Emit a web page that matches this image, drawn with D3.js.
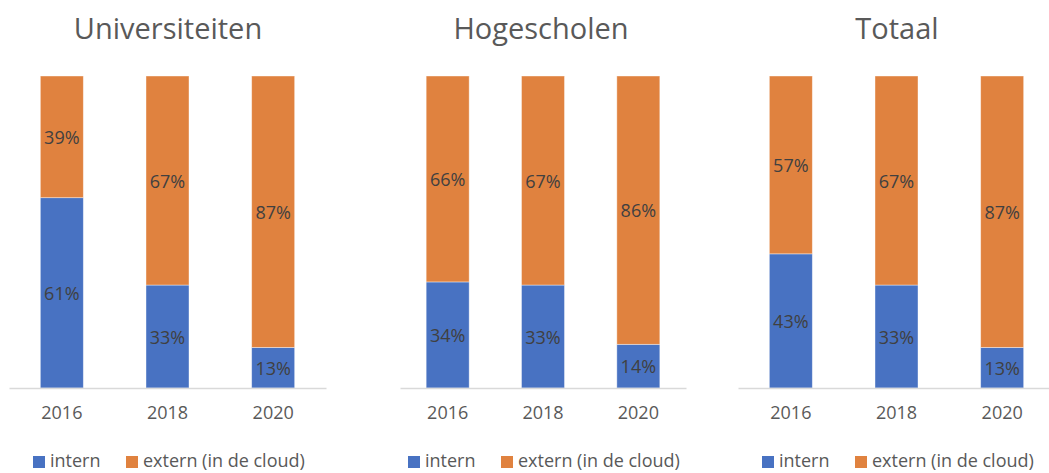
<!DOCTYPE html>
<html>
<head>
<meta charset="utf-8">
<script src="https://cdn.jsdelivr.net/npm/d3@7"></script>
<style>
  body { margin: 0; background: #fff; }
  text { font-family: "Open Sans", sans-serif; }
</style>
</head>
<body>
<div id="chart"></div>
<script>
/*
DATA
*/
const years = ["2016", "2018", "2020"];
const panels = ["Universiteiten", "Hogescholen", "Totaal"];
const internVals = [[61, 33, 13], [34, 33, 14], [43, 33, 13]];
const externVals = [[39, 67, 87], [66, 67, 86], [57, 67, 87]];
const seriesNames = ["intern", "extern (in de cloud)"];

/*
SET UP
*/
const w = 1049;
const h = 473;
const colors = ["#4872C2", "#E0823F"];
const yTop = 76;
const yBase = 388;
// x extent of each panel's category axis
const axisExtents = [[9, 326], [400, 686], [738, 1055]];
const titleX = [168, 541, 897];
const legendX = [33, 408, 762];

const svg = d3
  .select("#chart")
  .append("svg")
  .attr("width", w)
  .attr("height", h);

const y = d3.scaleLinear().domain([0, 100]).range([yBase, yTop]);

panels.forEach((name, i) => {
  const g = svg.append("g");
  const x = d3.scaleBand().domain(years).range(axisExtents[i]).paddingInner(0);
  const bw = 43;

  const rows = years.map((yr, j) => ({ year: yr, intern: internVals[i][j], extern: externVals[i][j] }));
  const stacked = d3.stack().keys(["intern", "extern"])(rows);

  g.append("text")
    .attr("x", titleX[i])
    .attr("y", 39)
    .attr("text-anchor", "middle")
    .attr("fill", "#595959")
    .style("font-size", "29px")
    .text(name);

  stacked.forEach((layer, k) => {
    g.selectAll(null)
      .data(layer)
      .join("rect")
      .attr("x", (d) => x(d.data.year) + x.bandwidth() / 2 - bw / 2)
      .attr("width", bw)
      .attr("y", (d) => y(d[1]))
      .attr("height", (d) => y(d[0]) - y(d[1]))
      .attr("fill", colors[k])
      .attr("stroke", "#fff")
      .attr("stroke-opacity", 0.5)
      .attr("stroke-width", 0.8);

    g.selectAll(null)
      .data(layer)
      .join("text")
      .attr("x", (d) => x(d.data.year) + x.bandwidth() / 2)
      .attr("y", (d) => (y(d[0]) + y(d[1])) / 2 + 7)
      .attr("text-anchor", "middle")
      .attr("fill", "#404040")
      .style("font-size", "18px")
      .text((d) => (d[1] - d[0]) + "%");
  });

  // baseline axis
  const axis = g.append("g")
    .attr("transform", `translate(0,${yBase})`)
    .call(d3.axisBottom(x).tickSize(0).tickPadding(18));
  axis.select(".domain").attr("stroke", "#d9d9d9").attr("stroke-width", 1.3);
  axis.selectAll("text")
    .attr("fill", "#595959")
    .style("font-size", "18px")
    .style("font-family", "'Open Sans', sans-serif");

  // legend
  const lg = g.append("g").attr("transform", `translate(${legendX[i]},0)`);
  const offsets = [0, 93];
  seriesNames.forEach((s, k) => {
    lg.append("rect")
      .attr("x", offsets[k])
      .attr("y", 456)
      .attr("width", 12)
      .attr("height", 12)
      .attr("fill", colors[k]);
    lg.append("text")
      .attr("x", offsets[k] + 17)
      .attr("y", 467)
      .attr("fill", "#595959")
      .style("font-size", "18px")
      .text(s);
  });
});
</script>
</body>
</html>
